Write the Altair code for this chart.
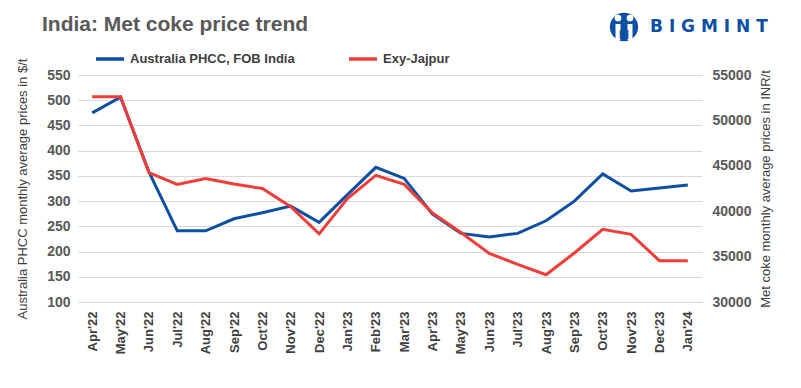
import altair as alt
import pandas as pd

months = ["Apr'22", "May'22", "Jun'22", "Jul'22", "Aug'22", "Sep'22", "Oct'22", "Nov'22",
          "Dec'22", "Jan'23", "Feb'23", "Mar'23", "Apr'23", "May'23", "Jun'23", "Jul'23",
          "Aug'23", "Sep'23", "Oct'23", "Nov'23", "Dec'23", "Jan'24"]
phcc_usd = [475, 506, 358, 241, 241, 265, 277, 290, 258, 313, 367, 345,
            274, 236, 229, 236, 261, 300, 354, 320, 326, 332]
exy_inr = [52600, 52600, 44250, 42950, 43600, 43000, 42500, 40500, 37500, 41400, 43950, 42950,
           39800, 37650, 35350, 34150, 33000, 35400, 38000, 37450, 34550, 34550]
series_names = ["Australia PHCC, FOB India", "Exy-Jajpur"]
left_ticks = list(range(100, 551, 50))
right_ticks = list(range(30000, 55001, 5000))

BLUE = "#0d4fa3"
RED = "#ef3d3a"
FONT = "Liberation Sans"

df_p = pd.DataFrame({"month": months, "value": phcc_usd, "series": series_names[0]})
df_e = pd.DataFrame({"month": months, "value": exy_inr, "series": series_names[1]})

x_enc = alt.X("month:N", sort=months, title=None,
              scale=alt.Scale(type="point", padding=0.5),
              axis=alt.Axis(labelAngle=-90, labelFont=FONT, labelFontSize=13,
                            labelFontWeight="bold", labelColor="#404040",
                            labelPadding=9, ticks=False, domainColor="#d9d9d9",
                            grid=False))

color_enc = alt.Color("series:N",
                      scale=alt.Scale(domain=series_names, range=[BLUE, RED]),
                      legend=alt.Legend(title=None, orient="none", direction="horizontal",
                                        legendX=16, legendY=-32, symbolType="stroke",
                                        symbolSize=784, symbolStrokeWidth=3.5,
                                        labelFont=FONT, labelFontSize=13,
                                        labelFontWeight="bold", labelColor="#404040",
                                        labelLimit=400, columnPadding=47, padding=0,
                                        labelOffset=4))

blue_line = alt.Chart(df_p).mark_line(strokeWidth=3).encode(
    x=x_enc,
    y=alt.Y("value:Q", title="Australia PHCC monthly average prices in $/t",
            scale=alt.Scale(domain=[100, 550], nice=False, zero=False),
            axis=alt.Axis(values=left_ticks, orient="left", labelFont=FONT,
                          labelFontSize=14, labelFontWeight="bold", labelColor="#595959",
                          labelPadding=8, ticks=False, domain=False, grid=True,
                          gridColor="#d9d9d9", titleFont=FONT, titleFontSize=13,
                          titleFontWeight="normal", titleColor="#404040",
                          titlePadding=17)),
    color=color_enc,
)

red_line = alt.Chart(df_e).mark_line(strokeWidth=3).encode(
    x=x_enc,
    y=alt.Y("value:Q", title="Met coke monthly average prices in INR/t",
            scale=alt.Scale(domain=[30000, 55000], nice=False, zero=False),
            axis=alt.Axis(values=right_ticks, format="d", orient="right", labelFont=FONT,
                          labelFontSize=14, labelFontWeight="bold", labelColor="#595959",
                          labelPadding=10, ticks=False, domain=False, grid=False,
                          titleFont=FONT, titleFontSize=13, titleFontWeight="normal",
                          titleColor="#404040", titlePadding=22, titleAngle=270)),
    color=color_enc,
)

one = pd.DataFrame({"a": [0]})

title_txt = alt.Chart(one).mark_text(
    text="India: Met coke price trend", font=FONT, fontSize=21, fontWeight="bold",
    color="#595959", align="left", baseline="middle"
).encode(x=alt.value(-36), y=alt.value(-50))

logo_txt = alt.Chart(one).mark_text(
    text="B I G M I N T", font="DejaVu Sans", fontSize=17, fontWeight="bold",
    color=BLUE, align="left", baseline="middle"
).encode(x=alt.value(572), y=alt.value(-48))

logo_circle = alt.Chart(one).mark_circle(size=800, color=BLUE, opacity=1).encode(
    x=alt.value(546), y=alt.value(-48))

logo_heads = alt.Chart(pd.DataFrame({"hx": [540, 552]})).mark_circle(
    size=45, color="white", opacity=1).encode(
    x=alt.X("hx:Q", scale=None), y=alt.value(-57))

logo_bodies = alt.Chart(pd.DataFrame({"bx": [540, 552]})).mark_rule(
    strokeWidth=5, color="white").encode(
    x=alt.X("bx:Q", scale=None), y=alt.value(-51), y2=alt.value(-35))

logo_m = alt.Chart(one).mark_text(
    text="M", font=FONT, fontSize=12, fontWeight="bold", color=BLUE,
    align="center", baseline="middle").encode(x=alt.value(546), y=alt.value(-40))

chart = alt.layer(
    blue_line, red_line, title_txt, logo_circle, logo_heads, logo_bodies, logo_m, logo_txt
).resolve_scale(y="independent").properties(
    width=624, height=227,
    autosize=alt.AutoSizeParams(type="none"),
    padding={"left": 70, "top": 67, "right": 91, "bottom": 78},
    background="white",
).configure_view(stroke=None)

chart.save("out.html", embed_options={"renderer": "svg", "actions": False})
